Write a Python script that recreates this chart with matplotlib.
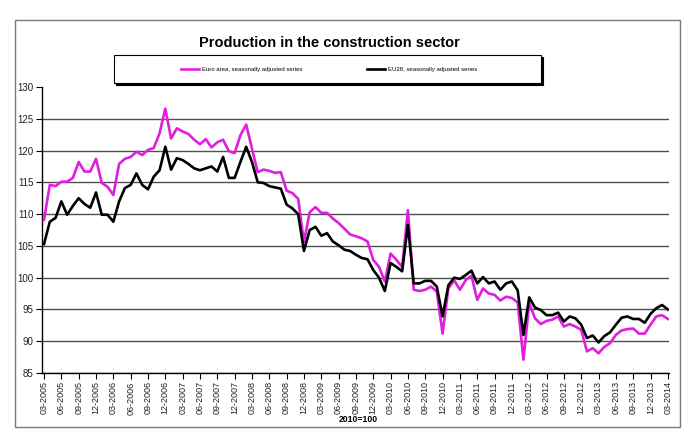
import numpy as np
import pandas as pd
import matplotlib
matplotlib.use("Agg")
import matplotlib.pyplot as plt
from matplotlib.patches import Rectangle

# ====== data (2010=100) ======
START = "2005-03"
N_MONTHS = 109

euro_area = [
    109.1, 114.6, 114.4, 115.1, 115.1, 115.7, 118.2, 116.7, 116.7, 118.7,
    114.9, 114.3, 113.0, 117.9, 118.7, 119.0, 119.8, 119.3, 120.1, 120.4,
    122.7, 126.6, 121.9, 123.5, 123.0, 122.6, 121.7, 121.0, 121.8, 120.5,
    121.3, 121.7, 119.9, 119.6, 122.4, 124.1, 120.3, 116.6, 117.0, 116.8,
    116.5, 116.6, 113.7, 113.3, 112.4, 105.6, 110.3, 111.1, 110.2, 110.2,
    109.3, 108.6, 107.7, 106.8, 106.5, 106.2, 105.7, 102.8, 101.7, 99.4,
    103.8, 102.8, 101.7, 110.6, 98.1, 97.9, 98.1, 98.6, 97.8, 91.2,
    98.3, 99.6, 98.1, 99.6, 100.3, 96.5, 98.3, 97.5, 97.3, 96.4,
    97.0, 96.8, 96.1, 87.1, 96.0, 93.6, 92.7, 93.2, 93.4, 93.9,
    92.3, 92.7, 92.3, 91.8, 88.4, 88.9, 88.1, 89.1, 89.7, 91.0,
    91.7, 91.9, 92.0, 91.2, 91.2, 92.6, 93.9, 94.1, 93.5,
]

eu28 = [
    105.3, 108.8, 109.4, 112.0, 109.9, 111.3, 112.5, 111.6, 111.0, 113.4,
    109.9, 109.9, 108.8, 112.0, 114.1, 114.6, 116.4, 114.6, 113.9, 115.9,
    116.9, 120.6, 117.0, 118.8, 118.5, 117.9, 117.2, 116.9, 117.2, 117.5,
    116.7, 119.0, 115.7, 115.7, 118.2, 120.6, 118.2, 115.0, 114.9, 114.4,
    114.2, 114.0, 111.5, 110.9, 110.0, 104.2, 107.5, 108.0, 106.6, 107.0,
    105.7, 105.1, 104.4, 104.2, 103.6, 103.1, 102.9, 101.2, 100.0, 97.9,
    102.3, 101.7, 101.0, 108.3, 99.1, 99.1, 99.5, 99.5, 98.6, 93.9,
    98.8, 100.0, 99.8, 100.4, 101.1, 99.1, 100.1, 99.1, 99.4, 98.1,
    99.1, 99.4, 98.0, 91.0, 96.9, 95.3, 94.9, 94.1, 94.1, 94.5,
    93.1, 93.9, 93.6, 92.6, 90.5, 90.9, 89.8, 90.8, 91.4, 92.6,
    93.7, 93.9, 93.5, 93.5, 92.9, 94.3, 95.2, 95.7, 95.0,
]

months = pd.period_range(START, periods=N_MONTHS, freq="M")
tick_idx = list(range(0, N_MONTHS, 3))
tick_labels = [months[i].strftime("%m-%Y") for i in tick_idx]

y_ticks = list(range(85, 131, 5))

TITLE = "Production in the construction sector"
LABEL_EA = "Euro area, seasonally adjusted series"
LABEL_EU = "EU28, seasonally adjusted series"
X_LABEL = "2010=100"

# ====== style ======
W_PX, H_PX, DPI = 696, 438, 100
MAGENTA = "#E01EE0"
plt.rcParams["font.family"] = ["Liberation Sans", "DejaVu Sans"]

def fx(px): return px / W_PX
def fy(py): return 1 - py / H_PX

fig = plt.figure(figsize=(W_PX / DPI, H_PX / DPI), dpi=DPI)
fig.patch.set_facecolor("white")

# outer chart frame
fig.patches.append(Rectangle((fx(15), fy(427)), fx(680) - fx(15), fy(20) - fy(427),
                             transform=fig.transFigure, fill=False,
                             edgecolor="#7a7a7a", lw=1.0))

ax = fig.add_axes([fx(42), fy(373), fx(669) - fx(42), fy(87) - fy(373)])

x = np.arange(N_MONTHS)
ax.plot(x, euro_area, color=MAGENTA, lw=1.9, label=LABEL_EA, zorder=3)
ax.plot(x, eu28, color="black", lw=1.9, label=LABEL_EU, zorder=4)

ax.set_xlim(-0.35, 108.2)
ax.set_ylim(85, 130)
ax.set_yticks(y_ticks)
ax.set_yticklabels([str(v) for v in y_ticks], fontsize=7, color="#222222")
ax.set_xticks(tick_idx)
ax.set_xticklabels(tick_labels, rotation=90, fontsize=6.5, color="#222222")

ax.yaxis.grid(True, color="#505050", lw=1.0)
ax.get_ygridlines()[-1].set_visible(False)
ax.set_axisbelow(True)

for s in ("top", "right"):
    ax.spines[s].set_visible(False)
for s in ("left", "bottom"):
    ax.spines[s].set_color("black")
    ax.spines[s].set_linewidth(1.0)
ax.tick_params(direction="out", length=4, width=0.8, pad=2)

# title and footer label
fig.text(fx(329), fy(43), TITLE, ha="center", va="center",
         fontsize=10.5, fontweight="bold")
fig.text(fx(358), fy(419), X_LABEL, ha="center", va="center",
         fontsize=6.2, fontweight="bold")

# legend box with shadow
bx0, bx1, by0, by1 = 114, 541, 55, 83
fig.patches.append(Rectangle((fx(bx0 + 2), fy(by1 + 2)), fx(bx1) - fx(bx0), fy(by0) - fy(by1),
                             transform=fig.transFigure, facecolor="black",
                             edgecolor="black", lw=0.8, zorder=1))
fig.patches.append(Rectangle((fx(bx0), fy(by1)), fx(bx1) - fx(bx0), fy(by0) - fy(by1),
                             transform=fig.transFigure, facecolor="white",
                             edgecolor="black", lw=0.8, zorder=2))
leg = fig.legend(loc="center", bbox_to_anchor=(fx(329), fy(69)), ncol=2,
                 frameon=False, fontsize=4.3, handlelength=3.0,
                 handletextpad=0.5, columnspacing=10.9)
leg.set_zorder(5)

fig.savefig("out.png", dpi=DPI, facecolor="white")
